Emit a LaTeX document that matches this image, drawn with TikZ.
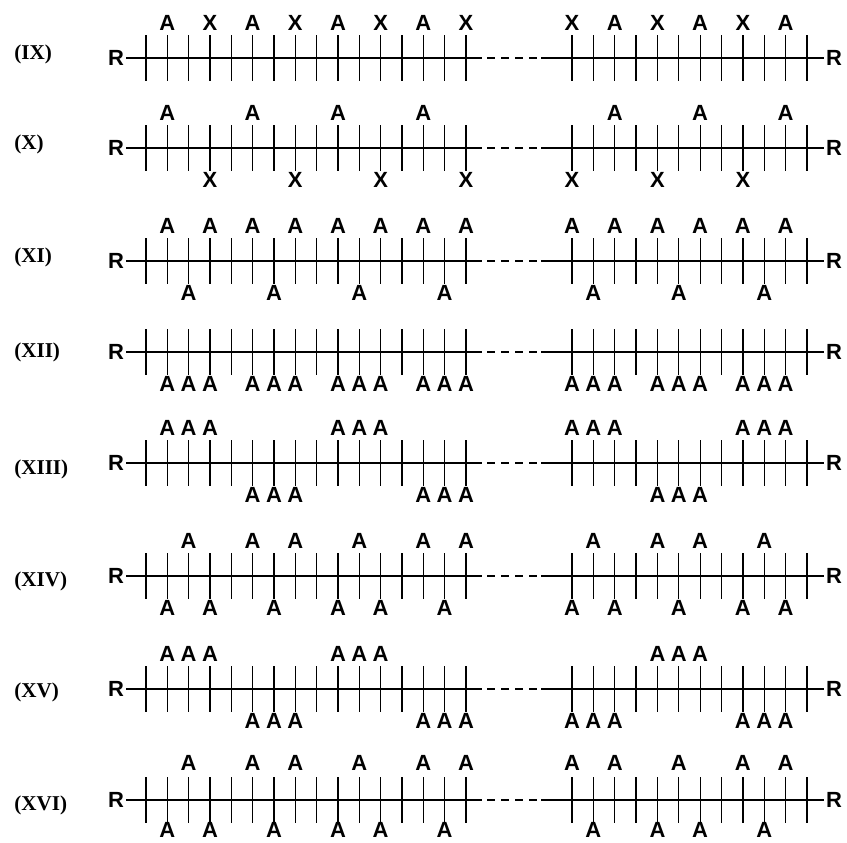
\documentclass[tikz,border=0pt]{standalone}
\usepackage{fontspec}
\setmainfont{Liberation Serif}
\newfontfamily\grpfont{Liberation Sans}
% positions of the side-group stubs on the left and right chain pieces
\newcommand{\lpos}[1]{146+21.33*(#1-1)}
\newcommand{\rpos}[1]{572+21.36*(#1-1)}

\begin{document}
\begin{tikzpicture}[x=0.02cm, y=-0.02cm,
    backbone/.style={line width=0.7pt},
    stub/.style={line width=0.7pt},
    grp/.style={font=\grpfont\bfseries\fontsize{12.5}{12.5}\selectfont, inner sep=0pt},
    endgroup/.style={font=\grpfont\bfseries\fontsize{12.5}{12.5}\selectfont, inner sep=1pt},
    rowlabel/.style={font=\bfseries\fontsize{12}{12}\selectfont, anchor=west, inner sep=0pt}]
    \useasboundingbox (0,0) rectangle (847,842);

    % chain skeletons: R ends, backbone, broken part, stubs
    \foreach \n/\y/\r/\dy in {9/58/IX/-4, 10/148/X/-4, 11/261/XI/-4, 12/352/XII/0,
                              13/463/XIII/6, 14/576/XIV/5, 15/689/XV/3, 16/800/XVI/5} {
        \node[rowlabel] (lab\n) at (14,\y+\dy) {(\r)};
        \node[endgroup, anchor=east] (rl\n) at (126,\y) {R};
        \node[endgroup, anchor=west] (rr\n) at (824,\y) {R};
        \coordinate (el\n) at (482,\y);
        \coordinate (dl\n) at (487,\y);
        \coordinate (dr\n) at (537,\y);
        \coordinate (sr\n) at (541,\y);
        \draw[backbone] (rl\n.east) -- (el\n);
        \draw[backbone, dash pattern=on 0.16cm off 0.12cm] (dl\n) -- (dr\n);
        \draw[backbone] (sr\n) -- (rr\n.west);
        \foreach \i in {1,...,16}
            \draw[stub] ({\lpos{\i}},\y-23) -- ({\lpos{\i}},\y+23);
        \foreach \j in {1,...,12}
            \draw[stub] ({\rpos{\j}},\y-23) -- ({\rpos{\j}},\y+23);
    }

    % (IX)
    \begin{scope}[shift={(0,58)}]
        \foreach \i/\s in {2/A,4/X,6/A,8/X,10/A,12/X,14/A,16/X}
            \node[grp] (u9l\i) at ({\lpos{\i}},-35) {\s};
        \foreach \j/\s in {1/X,3/A,5/X,7/A,9/X,11/A}
            \node[grp] (u9r\j) at ({\rpos{\j}},-35) {\s};
    \end{scope}

    % (X)
    \begin{scope}[shift={(0,148)}]
        \foreach \i in {2,6,10,14}
            \node[grp] (u10l\i) at ({\lpos{\i}},-35) {A};
        \foreach \i in {4,8,12,16}
            \node[grp] (d10l\i) at ({\lpos{\i}},32) {X};
        \foreach \j in {3,7,11}
            \node[grp] (u10r\j) at ({\rpos{\j}},-35) {A};
        \foreach \j in {1,5,9}
            \node[grp] (d10r\j) at ({\rpos{\j}},32) {X};
    \end{scope}

    % (XI)
    \begin{scope}[shift={(0,261)}]
        \foreach \i in {2,4,...,16}
            \node[grp] (u11l\i) at ({\lpos{\i}},-35) {A};
        \foreach \i in {3,7,11,15}
            \node[grp] (d11l\i) at ({\lpos{\i}},32) {A};
        \foreach \j in {1,3,5,7,9,11}
            \node[grp] (u11r\j) at ({\rpos{\j}},-35) {A};
        \foreach \j in {2,6,10}
            \node[grp] (d11r\j) at ({\rpos{\j}},32) {A};
    \end{scope}

    % (XII)
    \begin{scope}[shift={(0,352)}]
        \foreach \i in {2,3,4,6,7,8,10,11,12,14,15,16}
            \node[grp] (d12l\i) at ({\lpos{\i}},32) {A};
        \foreach \j in {1,2,3,5,6,7,9,10,11}
            \node[grp] (d12r\j) at ({\rpos{\j}},32) {A};
    \end{scope}

    % (XIII)
    \begin{scope}[shift={(0,463)}]
        \foreach \i in {2,3,4,10,11,12}
            \node[grp] (u13l\i) at ({\lpos{\i}},-35) {A};
        \foreach \i in {6,7,8,14,15,16}
            \node[grp] (d13l\i) at ({\lpos{\i}},32) {A};
        \foreach \j in {1,2,3,9,10,11}
            \node[grp] (u13r\j) at ({\rpos{\j}},-35) {A};
        \foreach \j in {5,6,7}
            \node[grp] (d13r\j) at ({\rpos{\j}},32) {A};
    \end{scope}

    % (XIV)
    \begin{scope}[shift={(0,576)}]
        \foreach \i in {3,6,8,11,14,16}
            \node[grp] (u14l\i) at ({\lpos{\i}},-35) {A};
        \foreach \i in {2,4,7,10,12,15}
            \node[grp] (d14l\i) at ({\lpos{\i}},32) {A};
        \foreach \j in {2,5,7,10}
            \node[grp] (u14r\j) at ({\rpos{\j}},-35) {A};
        \foreach \j in {1,3,6,9,11}
            \node[grp] (d14r\j) at ({\rpos{\j}},32) {A};
    \end{scope}

    % (XV)
    \begin{scope}[shift={(0,689)}]
        \foreach \i in {2,3,4,10,11,12}
            \node[grp] (u15l\i) at ({\lpos{\i}},-35) {A};
        \foreach \i in {6,7,8,14,15,16}
            \node[grp] (d15l\i) at ({\lpos{\i}},32) {A};
        \foreach \j in {5,6,7}
            \node[grp] (u15r\j) at ({\rpos{\j}},-35) {A};
        \foreach \j in {1,2,3,9,10,11}
            \node[grp] (d15r\j) at ({\rpos{\j}},32) {A};
    \end{scope}

    % (XVI)
    \begin{scope}[shift={(0,798)}]
        \foreach \i in {3,6,8,11,14,16}
            \node[grp] (u16l\i) at ({\lpos{\i}},-35) {A};
        \foreach \i in {2,4,7,10,12,15}
            \node[grp] (d16l\i) at ({\lpos{\i}},32) {A};
        \foreach \j in {1,3,6,9,11}
            \node[grp] (u16r\j) at ({\rpos{\j}},-35) {A};
        \foreach \j in {2,5,7,10}
            \node[grp] (d16r\j) at ({\rpos{\j}},32) {A};
    \end{scope}
\end{tikzpicture}
\end{document}
